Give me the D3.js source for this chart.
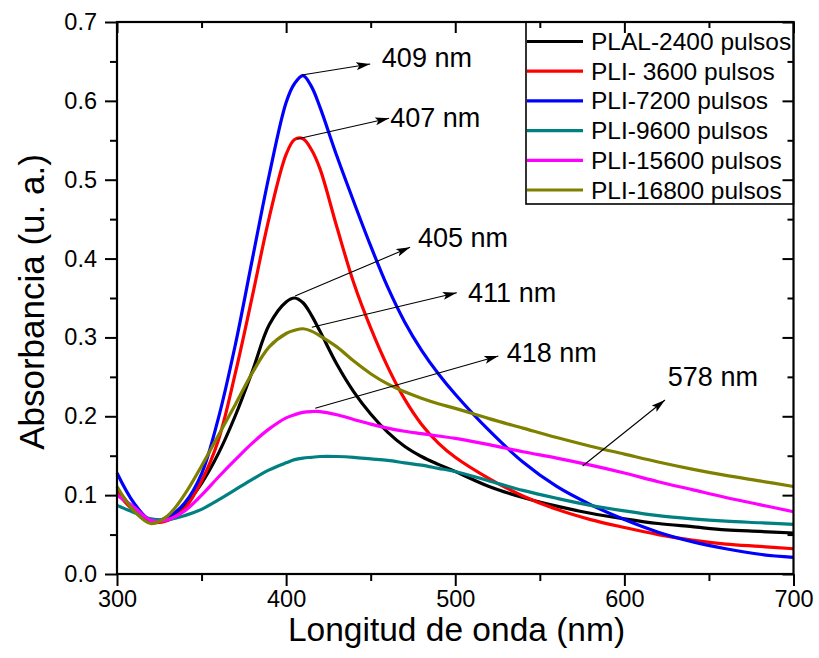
<!DOCTYPE html>
<html>
<head>
<meta charset="utf-8">
<script src="https://cdn.jsdelivr.net/npm/d3@7"></script>
<style>
  html, body { margin: 0; padding: 0; background: #fff; }
  svg { display: block; }
  text { font-family: "Liberation Sans", Arial, sans-serif; fill: #000; }
</style>
</head>
<body>
<svg id="chart" width="819" height="658"></svg>
<script>
// ---------- data ----------
const wavelengths = [300,310,320,330,340,350,360,370,380,390,400,405,410,415,420,430,440,450,460,470,480,490,500,520,540,560,580,600,620,640,660,680,700];

const plal2400  = [0.108,0.082,0.066,0.070,0.087,0.115,0.153,0.201,0.257,0.316,0.345,0.350,0.344,0.328,0.308,0.266,0.231,0.203,0.180,0.162,0.149,0.139,0.130,0.111,0.097,0.086,0.077,0.070,0.064,0.060,0.056,0.054,0.052];
const pli3600   = [0.103,0.080,0.066,0.068,0.083,0.118,0.170,0.255,0.352,0.452,0.532,0.551,0.552,0.538,0.514,0.440,0.369,0.312,0.263,0.222,0.190,0.166,0.148,0.121,0.099,0.082,0.069,0.059,0.050,0.043,0.038,0.035,0.032];
const pli7200   = [0.128,0.090,0.068,0.072,0.090,0.127,0.198,0.291,0.399,0.506,0.598,0.622,0.632,0.618,0.592,0.530,0.472,0.416,0.364,0.320,0.284,0.254,0.228,0.182,0.142,0.111,0.088,0.069,0.053,0.041,0.032,0.025,0.021];
const pli9600   = [0.087,0.078,0.070,0.069,0.074,0.082,0.094,0.107,0.120,0.132,0.141,0.145,0.147,0.148,0.149,0.149,0.148,0.146,0.144,0.141,0.138,0.134,0.130,0.118,0.106,0.096,0.087,0.080,0.074,0.070,0.067,0.065,0.063];
const pli15600  = [0.100,0.085,0.068,0.069,0.080,0.100,0.123,0.145,0.166,0.184,0.198,0.202,0.205,0.206,0.206,0.202,0.196,0.190,0.185,0.181,0.178,0.175,0.172,0.164,0.155,0.147,0.138,0.128,0.117,0.107,0.097,0.088,0.079];
const pli16800  = [0.111,0.080,0.064,0.074,0.101,0.137,0.176,0.215,0.255,0.288,0.305,0.309,0.311,0.308,0.302,0.288,0.270,0.254,0.241,0.231,0.223,0.216,0.210,0.197,0.185,0.173,0.162,0.152,0.142,0.133,0.125,0.118,0.111];

const seriesNames  = ["PLAL-2400 pulsos","PLI- 3600 pulsos","PLI-7200 pulsos","PLI-9600 pulsos","PLI-15600 pulsos","PLI-16800 pulsos"];
const seriesValues = [plal2400, pli3600, pli7200, pli9600, pli15600, pli16800];
const seriesColors = ["#000000","#ff0000","#0000ff","#008080","#ff00ff","#808000"];

const xTicks = [300,400,500,600,700];
const xMinorTicks = [350,450,550,650];
const yTicks = [0.0,0.1,0.2,0.3,0.4,0.5,0.6,0.7];
const yMinorTicks = [0.05,0.15,0.25,0.35,0.45,0.55,0.65];

// annotations in data units: arrow from (x1,y1) to (x2,y2), label at (lx,ly)
const annotations = [
  {label:"409 nm", x1:409.3, y1:0.6328, x2:449.7, y2:0.6467, lx:456.6, ly:0.643},
  {label:"407 nm", x1:406.4, y1:0.5516, x2:460.9, y2:0.5779, lx:461.5, ly:0.5672},
  {label:"405 nm", x1:405.3, y1:0.3525, x2:473.3, y2:0.4143, lx:478.0, ly:0.415},
  {label:"411 nm", x1:415.2, y1:0.3128, x2:500.9, y2:0.3567, lx:507.6, ly:0.3453},
  {label:"418 nm", x1:417.2, y1:0.2101, x2:525.5, y2:0.2764, lx:530.4, ly:0.2692},
  {label:"578 nm", x1:575.3, y1:0.137,  x2:624.0, y2:0.2206, lx:625.7, ly:0.2384}
];

(function draw() {
// ---------- layout ----------
const svg = d3.select("#chart");
const pL = 117, pR = 793.5, pT = 22, pB = 574;
const x = d3.scaleLinear().domain([300,700]).range([pL,pR]);
const y = d3.scaleLinear().domain([0,0.7]).range([pB,pT]);

const tickFont = "23.5px";

// defs: arrow marker
svg.append("defs").append("marker")
  .attr("id","arrow").attr("viewBox","0 0 14 8")
  .attr("refX",14).attr("refY",4)
  .attr("markerWidth",14).attr("markerHeight",8)
  .attr("markerUnits","userSpaceOnUse")
  .attr("orient","auto")
  .append("path").attr("d","M0,0 L14,4 L0,8 L3,4 Z").attr("fill","#000");

// ---------- curves ----------
const line = d3.line()
  .x(d => x(d[0]))
  .y(d => y(d[1]))
  .curve(d3.curveCatmullRom.alpha(0.5));

const curvesG = svg.append("g");
seriesValues.forEach((vals, i) => {
  curvesG.append("path")
    .datum(wavelengths.map((w, j) => [w, vals[j]]))
    .attr("d", line)
    .attr("fill","none")
    .attr("stroke", seriesColors[i])
    .attr("stroke-width", 3.2)
    .attr("stroke-linejoin","round");
});

// ---------- axes ----------
function styleAxis(g) {
  g.selectAll(".domain").remove();
  g.selectAll(".tick line").attr("stroke","#000").attr("stroke-width",2);
  g.selectAll(".tick text").style("font-size", tickFont).attr("fill","#000");
}

svg.append("g").attr("transform",`translate(0,${pB})`)
  .call(d3.axisBottom(x).tickValues(xTicks).tickFormat(d3.format("d")).tickSize(12).tickPadding(4))
  .call(styleAxis);
svg.append("g").attr("transform",`translate(0,${pB})`)
  .call(d3.axisBottom(x).tickValues(xMinorTicks).tickFormat("").tickSize(7))
  .call(styleAxis);
svg.append("g").attr("transform",`translate(${pL},0)`)
  .call(d3.axisLeft(y).tickValues(yTicks).tickFormat(d3.format(".1f")).tickSize(12).tickPadding(8))
  .call(styleAxis);
svg.append("g").attr("transform",`translate(${pL},0)`)
  .call(d3.axisLeft(y).tickValues(yMinorTicks).tickFormat("").tickSize(7))
  .call(styleAxis);
svg.append("g").attr("transform",`translate(0,${pT})`)
  .call(d3.axisTop(x).tickValues(xTicks).tickFormat("").tickSize(-11))
  .call(styleAxis);
svg.append("g").attr("transform",`translate(0,${pT})`)
  .call(d3.axisTop(x).tickValues(xMinorTicks).tickFormat("").tickSize(-6))
  .call(styleAxis);
svg.append("g").attr("transform",`translate(${pR},0)`)
  .call(d3.axisRight(y).tickValues(yTicks).tickFormat("").tickSize(-11))
  .call(styleAxis);
svg.append("g").attr("transform",`translate(${pR},0)`)
  .call(d3.axisRight(y).tickValues(yMinorTicks).tickFormat("").tickSize(-6))
  .call(styleAxis);

svg.append("rect")
  .attr("x",pL).attr("y",pT)
  .attr("width",pR-pL).attr("height",pB-pT)
  .attr("fill","none").attr("stroke","#000").attr("stroke-width",2.2);

// ---------- axis titles ----------
svg.append("text")
  .attr("x",456.5).attr("y",641)
  .attr("text-anchor","middle")
  .style("font-size","33.5px")
  .text("Longitud de onda (nm)");

svg.append("text")
  .attr("transform","translate(44,302) rotate(-90)")
  .attr("text-anchor","middle")
  .style("font-size","35px")
  .text("Absorbancia (u. a.)");

// ---------- annotations ----------
const annG = svg.append("g");
annotations.forEach(a => {
  annG.append("line")
    .attr("x1",x(a.x1)).attr("y1",y(a.y1))
    .attr("x2",x(a.x2)).attr("y2",y(a.y2))
    .attr("stroke","#000").attr("stroke-width",1.1)
    .attr("marker-end","url(#arrow)");
  annG.append("text")
    .attr("x",x(a.lx)).attr("y",y(a.ly))
    .style("font-size","27px")
    .text(a.label);
});

// ---------- legend ----------
const legX = 526, legBottom = 204;
svg.append("rect")
  .attr("x",legX).attr("y",pT)
  .attr("width",pR-legX).attr("height",legBottom-pT)
  .attr("fill","none").attr("stroke","#000").attr("stroke-width",1.6);

const legG = svg.append("g");
seriesNames.forEach((name, i) => {
  const cy = 41.5 + i*29.7;
  legG.append("line")
    .attr("x1",legX+1).attr("x2",583)
    .attr("y1",cy).attr("y2",cy)
    .attr("stroke",seriesColors[i]).attr("stroke-width",3.2);
  legG.append("text")
    .attr("x",591).attr("y",cy+8.5)
    .style("font-size","24.5px")
    .text(name);
});
})();
</script>
</body>
</html>
